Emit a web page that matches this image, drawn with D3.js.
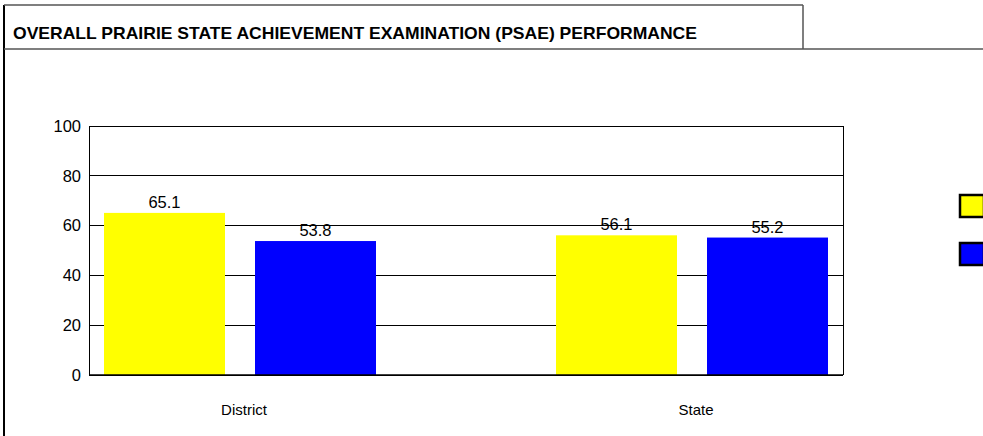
<!DOCTYPE html>
<html>
<head>
<meta charset="utf-8">
<script src="https://cdn.jsdelivr.net/npm/d3@7"></script>
<style>
  body { margin: 0; background: #fff; }
  svg { display: block; }
  text { font-family: Arial, "Liberation Sans", sans-serif; fill: #000; }
</style>
</head>
<body>
<svg id="chart" width="983" height="436"></svg>
<script>
const title = 'OVERALL PRAIRIE STATE ACHIEVEMENT EXAMINATION (PSAE) PERFORMANCE';
const categories = ['District', 'State'];
const seriesNames = ['Series A', 'Series B'];
const seriesColors = ['#ffff00', '#0000ff'];
const seriesA = [65.1, 56.1];
const seriesB = [53.8, 55.2];
const yTicks = [0, 20, 40, 60, 80, 100];

const svg = d3.select('#chart');

// frame around the page and the title box
svg.append('line').attr('x1', 4).attr('x2', 4).attr('y1', 5).attr('y2', 436)
  .attr('stroke', '#000').attr('stroke-width', 2);
svg.append('line').attr('x1', 4).attr('x2', 803).attr('y1', 5).attr('y2', 5)
  .attr('stroke', '#555').attr('stroke-width', 1.5);
svg.append('line').attr('x1', 803).attr('x2', 803).attr('y1', 5).attr('y2', 49)
  .attr('stroke', '#555').attr('stroke-width', 1.5);
svg.append('line').attr('x1', 4).attr('x2', 983).attr('y1', 49).attr('y2', 49)
  .attr('stroke', '#555').attr('stroke-width', 1.5);

svg.append('text')
  .attr('x', 13).attr('y', 39)
  .style('font-family', '"Liberation Sans Narrow", "Arial Narrow", Arial, sans-serif')
  .style('font-weight', 'bold')
  .style('font-size', '17px')
  .attr('textLength', 684)
  .attr('lengthAdjust', 'spacingAndGlyphs')
  .text(title);

const plot = { left: 89, right: 843, top: 126, bottom: 375 };

const y = d3.scaleLinear().domain([0, 100]).range([plot.bottom, plot.top]);
const x0 = d3.scalePoint().domain(categories).range([240, 692]);
const x1 = d3.scaleBand().domain(seriesNames).range([-136, 136]).paddingInner(0.1987);

// gridlines
svg.append('g')
  .selectAll('line')
  .data(yTicks)
  .join('line')
  .attr('x1', plot.left).attr('x2', plot.right)
  .attr('y1', d => y(d)).attr('y2', d => y(d))
  .attr('stroke', '#000').attr('stroke-width', 1)
  .attr('shape-rendering', 'crispEdges');

const rows = categories.map((c, i) => ({ cat: c, values: [seriesA[i], seriesB[i]] }));

const groups = svg.append('g')
  .selectAll('g')
  .data(rows)
  .join('g')
  .attr('transform', d => `translate(${x0(d.cat)},0)`);

groups.selectAll('rect')
  .data(d => d.values.map((v, j) => ({ name: seriesNames[j], value: v, color: seriesColors[j] })))
  .join('rect')
  .attr('x', d => x1(d.name))
  .attr('width', x1.bandwidth())
  .attr('y', d => y(d.value))
  .attr('height', d => y(0) - y(d.value))
  .attr('fill', d => d.color);

groups.selectAll('text.val')
  .data(d => d.values.map((v, j) => ({ name: seriesNames[j], value: v })))
  .join('text')
  .attr('class', 'val')
  .attr('x', d => x1(d.name) + x1.bandwidth() / 2)
  .attr('y', d => y(d.value) - 5)
  .attr('text-anchor', 'middle')
  .style('font-size', '16.5px')
  .text(d => d.value.toFixed(1));

// axes
const yAxis = d3.axisLeft(y).tickValues(yTicks).tickSize(0).tickPadding(8);
const gy = svg.append('g').attr('transform', `translate(${plot.left},0)`).call(yAxis);
gy.select('.domain').attr('stroke', '#000');
gy.selectAll('text').style('font-size', '16.5px').style('font-family', 'Arial, "Liberation Sans", sans-serif');

svg.append('line').attr('x1', plot.right).attr('x2', plot.right)
  .attr('y1', plot.top).attr('y2', plot.bottom)
  .attr('stroke', '#000').attr('shape-rendering', 'crispEdges');
svg.append('line').attr('x1', plot.left).attr('x2', plot.right)
  .attr('y1', plot.bottom).attr('y2', plot.bottom)
  .attr('stroke', '#000').attr('stroke-width', 1.5);

svg.append('g')
  .selectAll('text')
  .data(categories)
  .join('text')
  .attr('x', d => x0(d) + 4)
  .attr('y', 415)
  .attr('text-anchor', 'middle')
  .style('font-family', '"Liberation Sans Narrow", "Arial Narrow", Arial, sans-serif')
  .style('font-size', '15px')
  .text(d => d);

// legend swatches (labels fall outside the window)
svg.append('g')
  .selectAll('rect')
  .data(seriesNames)
  .join('rect')
  .attr('x', 960)
  .attr('y', (d, i) => 195 + i * 48)
  .attr('width', 24).attr('height', 22)
  .attr('fill', (d, i) => seriesColors[i])
  .attr('stroke', '#000').attr('stroke-width', 2.5);
</script>
</body>
</html>
